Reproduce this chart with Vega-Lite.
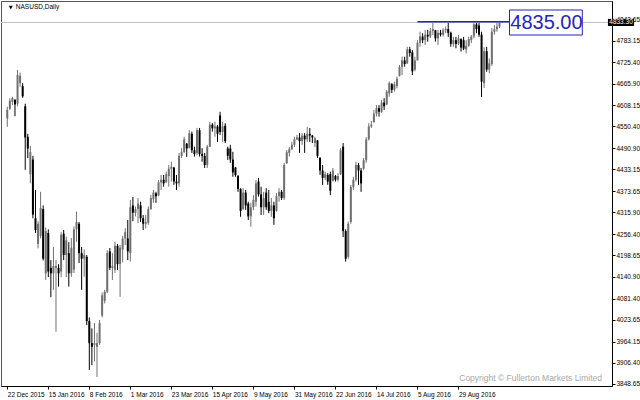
{
"$schema":"https://vega.github.io/schema/vega-lite/v6.json",
"width":611,"height":385,
"autosize":{"type":"none"},
"padding":{"left":1,"top":1,"right":28,"bottom":14},
"background":"white",
"config":{"view":{"stroke":"#555555","strokeWidth":1},"font":"Liberation Sans",
 "axis":{"title":null,"grid":false,"labelFont":"Liberation Sans","labelFontSize":6.5,"labelColor":"#000000","labelPadding":1,"labelOverlap":false,"labelFlush":false,"labelBound":false,"tickSize":3,"tickColor":"#000000","domainColor":"#000000","domainWidth":1}},
"data":{"values":[
{"i":0,"o":4572,"h":4604,"l":4549,"c":4595},
{"i":1,"o":4598,"h":4627,"l":4595,"c":4620},
{"i":2,"o":4617,"h":4631,"l":4608,"c":4627},
{"i":3,"o":4622,"h":4625,"l":4578,"c":4610},
{"i":4,"o":4612,"h":4704,"l":4605,"c":4690},
{"i":5,"o":4668,"h":4697,"l":4658,"c":4688},
{"i":6,"o":4660,"h":4668,"l":4628,"c":4632},
{"i":7,"o":4605,"h":4612,"l":4432,"c":4520},
{"i":8,"o":4522,"h":4530,"l":4464,"c":4490},
{"i":9,"o":4420,"h":4497,"l":4395,"c":4480},
{"i":10,"o":4460,"h":4470,"l":4300,"c":4310},
{"i":11,"o":4300,"h":4377,"l":4260,"c":4268},
{"i":12,"o":4230,"h":4292,"l":4218,"c":4285},
{"i":13,"o":4252,"h":4372,"l":4245,"c":4328},
{"i":14,"o":4325,"h":4335,"l":4185,"c":4190},
{"i":15,"o":4150,"h":4275,"l":4132,"c":4265},
{"i":16,"o":4260,"h":4270,"l":4140,"c":4155},
{"i":17,"o":4165,"h":4186,"l":4085,"c":4150},
{"i":18,"o":4150,"h":4222,"l":4105,"c":4170},
{"i":19,"o":4165,"h":4186,"l":3991,"c":4170},
{"i":20,"o":4165,"h":4175,"l":4114,"c":4150},
{"i":21,"o":4155,"h":4262,"l":4140,"c":4255},
{"i":22,"o":4258,"h":4268,"l":4186,"c":4200},
{"i":23,"o":4200,"h":4250,"l":4140,"c":4240},
{"i":24,"o":4205,"h":4235,"l":4114,"c":4150},
{"i":25,"o":4150,"h":4246,"l":4141,"c":4220},
{"i":26,"o":4160,"h":4278,"l":4151,"c":4270},
{"i":27,"o":4270,"h":4318,"l":4236,"c":4290},
{"i":28,"o":4285,"h":4290,"l":4178,"c":4205},
{"i":29,"o":4205,"h":4222,"l":4105,"c":4190},
{"i":30,"o":4190,"h":4215,"l":4141,"c":4200},
{"i":31,"o":4195,"h":4200,"l":4009,"c":4020},
{"i":32,"o":4020,"h":4030,"l":3887,"c":3960},
{"i":33,"o":3960,"h":4000,"l":3900,"c":3950},
{"i":34,"o":3955,"h":4015,"l":3910,"c":3960},
{"i":35,"o":3950,"h":3988,"l":3868,"c":3960},
{"i":36,"o":3960,"h":4023,"l":3955,"c":4015},
{"i":37,"o":4035,"h":4098,"l":4030,"c":4090},
{"i":38,"o":4075,"h":4105,"l":4068,"c":4100},
{"i":39,"o":4100,"h":4213,"l":4096,"c":4205},
{"i":40,"o":4210,"h":4219,"l":4159,"c":4165},
{"i":41,"o":4165,"h":4205,"l":4132,"c":4170},
{"i":42,"o":4160,"h":4236,"l":4151,"c":4225},
{"i":43,"o":4225,"h":4230,"l":4159,"c":4175},
{"i":44,"o":4175,"h":4227,"l":4086,"c":4220},
{"i":45,"o":4215,"h":4252,"l":4180,"c":4245},
{"i":46,"o":4245,"h":4273,"l":4227,"c":4262},
{"i":47,"o":4245,"h":4295,"l":4186,"c":4210},
{"i":48,"o":4205,"h":4350,"l":4182,"c":4330},
{"i":49,"o":4335,"h":4358,"l":4292,"c":4315},
{"i":50,"o":4315,"h":4332,"l":4305,"c":4325},
{"i":51,"o":4325,"h":4355,"l":4287,"c":4340},
{"i":52,"o":4335,"h":4345,"l":4290,"c":4300},
{"i":53,"o":4300,"h":4309,"l":4268,"c":4285},
{"i":54,"o":4285,"h":4309,"l":4272,"c":4290},
{"i":55,"o":4288,"h":4332,"l":4282,"c":4325},
{"i":56,"o":4325,"h":4363,"l":4323,"c":4355},
{"i":57,"o":4352,"h":4377,"l":4342,"c":4370},
{"i":58,"o":4368,"h":4372,"l":4342,"c":4360},
{"i":59,"o":4362,"h":4404,"l":4360,"c":4398},
{"i":60,"o":4398,"h":4418,"l":4377,"c":4405},
{"i":61,"o":4405,"h":4418,"l":4386,"c":4395},
{"i":62,"o":4398,"h":4427,"l":4396,"c":4420},
{"i":63,"o":4415,"h":4445,"l":4386,"c":4435},
{"i":64,"o":4435,"h":4454,"l":4400,"c":4440},
{"i":65,"o":4438,"h":4440,"l":4391,"c":4400},
{"i":66,"o":4400,"h":4418,"l":4377,"c":4395},
{"i":67,"o":4395,"h":4478,"l":4386,"c":4470},
{"i":68,"o":4470,"h":4491,"l":4464,"c":4480},
{"i":69,"o":4480,"h":4522,"l":4478,"c":4515},
{"i":70,"o":4503,"h":4505,"l":4467,"c":4490},
{"i":71,"o":4492,"h":4540,"l":4490,"c":4532},
{"i":72,"o":4530,"h":4536,"l":4478,"c":4485},
{"i":73,"o":4485,"h":4495,"l":4468,"c":4475},
{"i":74,"o":4478,"h":4546,"l":4472,"c":4540},
{"i":75,"o":4540,"h":4546,"l":4468,"c":4475},
{"i":76,"o":4475,"h":4491,"l":4454,"c":4470},
{"i":77,"o":4470,"h":4478,"l":4437,"c":4445},
{"i":78,"o":4445,"h":4500,"l":4437,"c":4495},
{"i":79,"o":4495,"h":4563,"l":4494,"c":4555},
{"i":80,"o":4555,"h":4559,"l":4536,"c":4545},
{"i":81,"o":4545,"h":4563,"l":4522,"c":4550},
{"i":82,"o":4550,"h":4554,"l":4508,"c":4530},
{"i":83,"o":4580,"h":4590,"l":4527,"c":4535},
{"i":84,"o":4535,"h":4563,"l":4508,"c":4550},
{"i":85,"o":4552,"h":4559,"l":4505,"c":4510},
{"i":86,"o":4490,"h":4495,"l":4459,"c":4470},
{"i":87,"o":4490,"h":4500,"l":4451,"c":4460},
{"i":88,"o":4460,"h":4481,"l":4413,"c":4425},
{"i":89,"o":4438,"h":4440,"l":4413,"c":4418},
{"i":90,"o":4415,"h":4418,"l":4372,"c":4380},
{"i":91,"o":4380,"h":4382,"l":4304,"c":4320},
{"i":92,"o":4325,"h":4382,"l":4323,"c":4370},
{"i":93,"o":4370,"h":4377,"l":4323,"c":4335},
{"i":94,"o":4340,"h":4345,"l":4295,"c":4305},
{"i":95,"o":4305,"h":4342,"l":4277,"c":4330},
{"i":96,"o":4330,"h":4363,"l":4322,"c":4350},
{"i":97,"o":4345,"h":4404,"l":4332,"c":4395},
{"i":98,"o":4400,"h":4410,"l":4359,"c":4365},
{"i":99,"o":4365,"h":4386,"l":4309,"c":4330},
{"i":100,"o":4330,"h":4372,"l":4309,"c":4355},
{"i":101,"o":4370,"h":4382,"l":4323,"c":4330},
{"i":102,"o":4345,"h":4377,"l":4314,"c":4320},
{"i":103,"o":4320,"h":4355,"l":4304,"c":4335},
{"i":104,"o":4335,"h":4345,"l":4282,"c":4300},
{"i":105,"o":4320,"h":4369,"l":4318,"c":4360},
{"i":106,"o":4360,"h":4382,"l":4345,"c":4372},
{"i":107,"o":4372,"h":4377,"l":4350,"c":4355},
{"i":108,"o":4355,"h":4451,"l":4350,"c":4445},
{"i":109,"o":4450,"h":4486,"l":4448,"c":4480},
{"i":110,"o":4478,"h":4494,"l":4468,"c":4488},
{"i":111,"o":4488,"h":4508,"l":4486,"c":4500},
{"i":112,"o":4500,"h":4522,"l":4494,"c":4515},
{"i":113,"o":4515,"h":4527,"l":4513,"c":4520},
{"i":114,"o":4520,"h":4532,"l":4478,"c":4510},
{"i":115,"o":4510,"h":4532,"l":4500,"c":4525},
{"i":116,"o":4525,"h":4532,"l":4478,"c":4515},
{"i":117,"o":4515,"h":4549,"l":4508,"c":4530},
{"i":118,"o":4530,"h":4546,"l":4508,"c":4525},
{"i":119,"o":4525,"h":4527,"l":4505,"c":4520},
{"i":120,"o":4505,"h":4522,"l":4494,"c":4518},
{"i":121,"o":4512,"h":4513,"l":4464,"c":4470},
{"i":122,"o":4465,"h":4466,"l":4418,"c":4430},
{"i":123,"o":4430,"h":4445,"l":4391,"c":4410},
{"i":124,"o":4410,"h":4427,"l":4404,"c":4420},
{"i":125,"o":4418,"h":4423,"l":4391,"c":4400},
{"i":126,"o":4420,"h":4427,"l":4363,"c":4375},
{"i":127,"o":4402,"h":4437,"l":4400,"c":4430},
{"i":128,"o":4415,"h":4418,"l":4400,"c":4405},
{"i":129,"o":4405,"h":4423,"l":4400,"c":4415},
{"i":130,"o":4420,"h":4491,"l":4418,"c":4485},
{"i":131,"o":4495,"h":4505,"l":4249,"c":4265},
{"i":132,"o":4265,"h":4270,"l":4182,"c":4190},
{"i":133,"o":4195,"h":4291,"l":4190,"c":4285},
{"i":134,"o":4290,"h":4391,"l":4285,"c":4385},
{"i":135,"o":4385,"h":4413,"l":4377,"c":4405},
{"i":136,"o":4405,"h":4454,"l":4400,"c":4445},
{"i":137,"o":4445,"h":4451,"l":4391,"c":4430},
{"i":138,"o":4430,"h":4437,"l":4372,"c":4395},
{"i":139,"o":4435,"h":4464,"l":4431,"c":4458},
{"i":140,"o":4458,"h":4521,"l":4451,"c":4515},
{"i":141,"o":4515,"h":4559,"l":4512,"c":4550},
{"i":142,"o":4550,"h":4565,"l":4546,"c":4555},
{"i":143,"o":4562,"h":4595,"l":4560,"c":4585},
{"i":144,"o":4585,"h":4608,"l":4577,"c":4600},
{"i":145,"o":4600,"h":4608,"l":4577,"c":4590},
{"i":146,"o":4590,"h":4622,"l":4587,"c":4615},
{"i":147,"o":4615,"h":4627,"l":4595,"c":4605},
{"i":148,"o":4610,"h":4649,"l":4608,"c":4645},
{"i":149,"o":4640,"h":4672,"l":4631,"c":4668},
{"i":150,"o":4665,"h":4668,"l":4641,"c":4650},
{"i":151,"o":4650,"h":4672,"l":4645,"c":4665},
{"i":152,"o":4660,"h":4686,"l":4654,"c":4680},
{"i":153,"o":4688,"h":4717,"l":4686,"c":4712},
{"i":154,"o":4712,"h":4740,"l":4690,"c":4730},
{"i":155,"o":4730,"h":4740,"l":4713,"c":4720},
{"i":156,"o":4722,"h":4767,"l":4720,"c":4760},
{"i":157,"o":4760,"h":4767,"l":4740,"c":4750},
{"i":158,"o":4752,"h":4758,"l":4690,"c":4700},
{"i":159,"o":4705,"h":4740,"l":4700,"c":4730},
{"i":160,"o":4730,"h":4785,"l":4730,"c":4778},
{"i":161,"o":4778,"h":4808,"l":4767,"c":4795},
{"i":162,"o":4795,"h":4804,"l":4777,"c":4785},
{"i":163,"o":4785,"h":4813,"l":4772,"c":4800},
{"i":164,"o":4800,"h":4813,"l":4781,"c":4795},
{"i":165,"o":4795,"h":4818,"l":4791,"c":4810},
{"i":166,"o":4810,"h":4835,"l":4799,"c":4815},
{"i":167,"o":4812,"h":4813,"l":4781,"c":4790},
{"i":168,"o":4790,"h":4813,"l":4772,"c":4805},
{"i":169,"o":4805,"h":4813,"l":4795,"c":4800},
{"i":170,"o":4800,"h":4818,"l":4795,"c":4812},
{"i":171,"o":4812,"h":4822,"l":4804,"c":4815},
{"i":172,"o":4815,"h":4835,"l":4794,"c":4805},
{"i":173,"o":4805,"h":4808,"l":4767,"c":4775},
{"i":174,"o":4775,"h":4794,"l":4767,"c":4785},
{"i":175,"o":4785,"h":4794,"l":4763,"c":4775},
{"i":176,"o":4775,"h":4799,"l":4772,"c":4790},
{"i":177,"o":4788,"h":4790,"l":4754,"c":4765},
{"i":178,"o":4785,"h":4794,"l":4758,"c":4762},
{"i":179,"o":4760,"h":4785,"l":4749,"c":4770},
{"i":180,"o":4770,"h":4794,"l":4767,"c":4788},
{"i":181,"o":4785,"h":4799,"l":4777,"c":4795},
{"i":182,"o":4795,"h":4835,"l":4790,"c":4828},
{"i":183,"o":4828,"h":4835,"l":4804,"c":4815},
{"i":184,"o":4825,"h":4835,"l":4794,"c":4800},
{"i":185,"o":4800,"h":4808,"l":4630,"c":4672},
{"i":186,"o":4668,"h":4766,"l":4655,"c":4755},
{"i":187,"o":4755,"h":4767,"l":4699,"c":4705},
{"i":188,"o":4705,"h":4735,"l":4695,"c":4722},
{"i":189,"o":4720,"h":4818,"l":4715,"c":4808},
{"i":190,"o":4808,"h":4826,"l":4800,"c":4815},
{"i":191,"o":4815,"h":4832,"l":4808,"c":4822},
{"i":192,"o":4822,"h":4835,"l":4818,"c":4833.3}
]},
"layer":[
{"mark":{"type":"rule","strokeWidth":1},
 "encoding":{
  "x":{"field":"i","type":"quantitative","scale":{"domain":[-0.499,233.93],"nice":false,"zero":false},
   "axis":{"orient":"bottom","values":[0,16,32,48,64,80,96,112,128,144,160,176],"tickCount":30,
    "labelExpr":"['22 Dec 2015','15 Jan 2016','8 Feb 2016','1 Mar 2016','23 Mar 2016','15 Apr 2016','9 May 2016','31 May 2016','22 Jun 2016','14 Jul 2016','5 Aug 2016','29 Aug 2016'][round(datum.value/16)]",
    "labelAlign":"left","labelOverlap":false,"labelFontSize":6.5,"labelPadding":2}},
  "y":{"field":"l","type":"quantitative","scale":{"domain":[3843.2,4891.7],"nice":false,"zero":false},
   "axis":{"orient":"right","tickCount":40,
    "values":[3848.65,3906.40,3964.15,4023.65,4081.40,4140.90,4198.65,4256.40,4315.90,4373.65,4433.15,4490.90,4550.40,4608.15,4665.90,4725.40,4783.15,4842.65],
    "format":".2f","labelOverlap":false,"labelFontSize":6.5,"labelPadding":1,"labelBound":false}},
  "y2":{"field":"h"},
  "color":{"condition":{"test":"datum.c < datum.o","value":"#000000"},"value":"#707070"}}},
{"mark":{"type":"bar","width":2},
 "encoding":{
  "x":{"field":"i","type":"quantitative","scale":{"domain":[-0.499,233.93],"nice":false,"zero":false}},
  "y":{"field":"o","type":"quantitative","scale":{"domain":[3843.2,4891.7],"nice":false,"zero":false}},
  "y2":{"field":"c"},
  "color":{"condition":{"test":"datum.c < datum.o","value":"#000000"},"value":"#707070"}}},
{"data":{"values":[{}]},
 "mark":{"type":"rule","color":"#c0c0c0","strokeWidth":1},
 "encoding":{"y":{"datum":4833.3,"type":"quantitative","scale":{"domain":[3843.2,4891.7],"nice":false,"zero":false}}}},
{"data":{"values":[{}]},
 "mark":{"type":"rule","color":"#2424c0","strokeWidth":1.5},
 "encoding":{
  "x":{"datum":160,"type":"quantitative","scale":{"domain":[-0.499,233.93],"nice":false,"zero":false}},
  "x2":{"datum":196},
  "y":{"datum":4835,"type":"quantitative","scale":{"domain":[3843.2,4891.7],"nice":false,"zero":false}}}},
{"data":{"values":[{}]},
 "mark":{"type":"rect","fill":"#ffffff","stroke":"#2424c0","strokeWidth":1},
 "encoding":{
  "x":{"datum":195.9,"type":"quantitative","scale":{"domain":[-0.499,233.93],"nice":false,"zero":false}},
  "x2":{"datum":224.3},
  "y":{"datum":4867.2,"type":"quantitative","scale":{"domain":[3843.2,4891.7],"nice":false,"zero":false}},
  "y2":{"datum":4799.1}}},
{"data":{"values":[{}]},
 "mark":{"type":"text","fontSize":20,"font":"Liberation Sans","color":"#2424c0","align":"center","baseline":"middle"},
 "encoding":{
  "x":{"datum":210.3,"type":"quantitative","scale":{"domain":[-0.499,233.93],"nice":false,"zero":false}},
  "y":{"datum":4833,"type":"quantitative","scale":{"domain":[3843.2,4891.7],"nice":false,"zero":false}},
  "text":{"value":"4835.00"}}},
{"data":{"values":[{}]},
 "mark":{"type":"rect","fill":"#000000"},
 "encoding":{
  "x":{"datum":234.3,"type":"quantitative","scale":{"domain":[-0.499,233.93],"nice":false,"zero":false}},
  "x2":{"datum":244.5},
  "y":{"datum":4843,"type":"quantitative","scale":{"domain":[3843.2,4891.7],"nice":false,"zero":false}},
  "y2":{"datum":4823.6}}},
{"data":{"values":[{}]},
 "mark":{"type":"text","fontSize":6.5,"font":"Liberation Sans","color":"#ffffff","align":"center","baseline":"middle"},
 "encoding":{
  "x":{"datum":239.4,"type":"quantitative","scale":{"domain":[-0.499,233.93],"nice":false,"zero":false}},
  "y":{"datum":4833.3,"type":"quantitative","scale":{"domain":[3843.2,4891.7],"nice":false,"zero":false}},
  "text":{"value":"4833.30"}}},
{"data":{"values":[{}]},
 "mark":{"type":"text","fontSize":5,"font":"DejaVu Sans","color":"#000000","align":"center","baseline":"middle"},
 "encoding":{
  "x":{"datum":1.3,"type":"quantitative","scale":{"domain":[-0.499,233.93],"nice":false,"zero":false}},
  "y":{"datum":4876.7,"type":"quantitative","scale":{"domain":[3843.2,4891.7],"nice":false,"zero":false}},
  "text":{"value":"▼"}}},
{"data":{"values":[{}]},
 "mark":{"type":"text","fontSize":6.5,"font":"Liberation Sans","color":"#000000","align":"left","baseline":"middle"},
 "encoding":{
  "x":{"datum":3.34,"type":"quantitative","scale":{"domain":[-0.499,233.93],"nice":false,"zero":false}},
  "y":{"datum":4876.7,"type":"quantitative","scale":{"domain":[3843.2,4891.7],"nice":false,"zero":false}},
  "text":{"value":"NASUSD,Daily"}}},
{"data":{"values":[{}]},
 "mark":{"type":"text","fontSize":8.5,"font":"Liberation Sans","color":"#a8a8a8","align":"right","baseline":"middle"},
 "encoding":{
  "x":{"datum":232.0,"type":"quantitative","scale":{"domain":[-0.499,233.93],"nice":false,"zero":false}},
  "y":{"datum":3866,"type":"quantitative","scale":{"domain":[3843.2,4891.7],"nice":false,"zero":false}},
  "text":{"value":"Copyright © Fullerton Markets Limited"}}}
]
}
